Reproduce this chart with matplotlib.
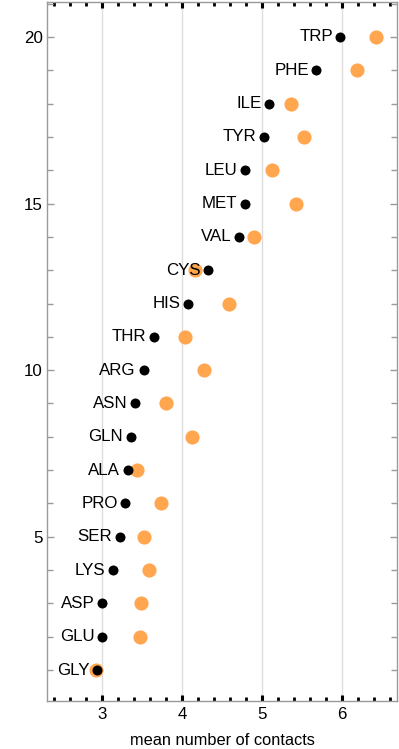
import matplotlib
matplotlib.use("Agg")
import matplotlib.pyplot as plt
from matplotlib.ticker import MultipleLocator

residues = ["GLY", "GLU", "ASP", "LYS", "SER", "PRO", "ALA", "GLN", "ASN", "ARG",
            "THR", "HIS", "CYS", "VAL", "MET", "LEU", "TYR", "ILE", "PHE", "TRP"]
rank = list(range(1, 21))
black_vals = [2.94, 3.00, 3.00, 3.14, 3.225, 3.29, 3.32, 3.36, 3.41, 3.52,
              3.65, 4.075, 4.33, 4.71, 4.79, 4.79, 5.02, 5.09, 5.68, 5.98]
orange_vals = [2.92, 3.47, 3.49, 3.59, 3.52, 3.74, 3.44, 4.12, 3.80, 4.28,
               4.04, 4.59, 4.16, 4.90, 5.43, 5.13, 5.53, 5.36, 6.19, 6.425]
x_label = "mean number of contacts"

plt.rcParams['font.family'] = ['Liberation Sans', 'DejaVu Sans']

fig = plt.figure(figsize=(3.99, 7.49), dpi=100)
ax = fig.add_axes([47/399, 1-701/749, 350/399, 699/749])

ax.plot(orange_vals, rank, 'o', color='#FFA64F', markersize=10.2, markeredgewidth=0, zorder=3)
ax.plot(black_vals, rank, 'o', color='black', markersize=7.2, markeredgewidth=0, zorder=4)
for name, xv, yv in zip(residues, black_vals, rank):
    ax.annotate(name, (xv, yv), xytext=(-5.5, 0), textcoords='offset points',
                ha='right', va='center', fontsize=12.2, zorder=5)

ax.set_xlim(2.3125, 6.6875)
ax.set_ylim(0.07, 21.05)

for s in ax.spines.values():
    s.set_color('#9a9a9a')
    s.set_linewidth(1.0)

ax.xaxis.set_major_locator(MultipleLocator(1))
ax.xaxis.set_minor_locator(MultipleLocator(0.2))
ax.yaxis.set_major_locator(MultipleLocator(5))
ax.yaxis.set_minor_locator(MultipleLocator(1))

ax.tick_params(axis='x', which='major', direction='in', top=True, bottom=True,
               length=4, width=2.2, color='black', labelsize=12.2, pad=4)
ax.tick_params(axis='x', which='minor', direction='in', top=True, bottom=True,
               length=3, width=2.0, color='black')
ax.tick_params(axis='y', which='major', direction='in', left=True, right=True,
               length=5, width=1.0, color='#9a9a9a', labelsize=12.2, pad=3)
ax.tick_params(axis='y', which='minor', direction='in', left=True, right=True,
               length=4, width=1.0, color='#9a9a9a')

ax.grid(True, axis='x', which='major', color='#dcdcdc', linewidth=1.0, zorder=0)
ax.set_axisbelow(True)

ax.set_xlabel(x_label, fontsize=11.8, labelpad=8)

fig.savefig("out.png", dpi=100)
